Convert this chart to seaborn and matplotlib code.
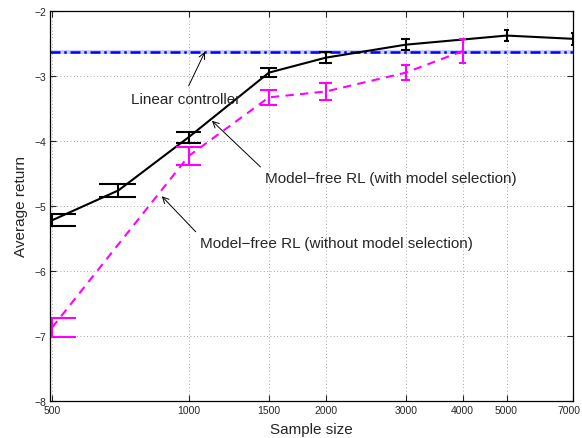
import numpy as np
import pandas as pd
import seaborn as sns
import matplotlib
matplotlib.use("Agg")
import matplotlib.pyplot as plt
import matplotlib.transforms as mtransforms
from matplotlib.ticker import FixedLocator, FixedFormatter, NullLocator

# data
with_sel_n = [500, 700, 1000, 1500, 2000, 3000, 5000, 7000]
with_sel_ret = [-5.22, -4.76, -3.94, -2.95, -2.72, -2.52, -2.38, -2.43]
with_sel_err = [0.095, 0.10, 0.085, 0.07, 0.08, 0.08, 0.08, 0.09]

without_sel_n = [500, 1000, 1500, 2000, 3000, 4000]
without_sel_ret = [-6.87, -4.23, -3.33, -3.24, -2.95, -2.62]
without_sel_err = [0.15, 0.14, 0.12, 0.13, 0.12, 0.18]

linear_ret = -2.63
linear_err = 0.03

xticks = [500, 1000, 1500, 2000, 3000, 4000, 5000, 7000]
yticks = [-8, -7, -6, -5, -4, -3, -2]

sns.set_style("white")
plt.rcParams['font.family'] = ['Liberation Sans', 'DejaVu Sans']

fig = plt.figure(figsize=(5.82, 4.39), dpi=100)
ax = fig.add_axes([0.086, 0.084, 0.899, 0.889])
ax.set_xscale("log")

# linear controller band + line
ax.axhspan(linear_ret - linear_err, linear_ret + linear_err, color="#aaaaff", alpha=0.6, lw=0)
ax.axhline(linear_ret, color="blue", lw=1.8, ls=(0, (4, 1.5, 1, 1.5)))

df_w = pd.DataFrame({"n": with_sel_n, "ret": with_sel_ret})
df_wo = pd.DataFrame({"n": without_sel_n, "ret": without_sel_ret})
sns.lineplot(data=df_w, x="n", y="ret", ax=ax, color="black", lw=1.5)
sns.lineplot(data=df_wo, x="n", y="ret", ax=ax, color="magenta", lw=1.5, linestyle=(0, (4, 3)))

# error bars, MATLAB style caps of constant width in data units
cap = (7000 - 500) / 100
for n, r, e, c in [(with_sel_n, with_sel_ret, with_sel_err, "black"),
                   (without_sel_n, without_sel_ret, without_sel_err, "magenta")]:
    n = np.array(n); r = np.array(r); e = np.array(e)
    ax.errorbar(n, r, yerr=e, fmt="none", ecolor=c, elinewidth=1.5, capsize=0)
    ax.hlines(r + e, n - cap, n + cap, color=c, lw=1.5)
    ax.hlines(r - e, n - cap, n + cap, color=c, lw=1.5)

ax.set_xlim(495, 7010)
ax.set_ylim(-8, -2)
ax.xaxis.set_major_locator(FixedLocator(xticks))
ax.xaxis.set_major_formatter(FixedFormatter([str(t) for t in xticks]))
ax.xaxis.set_minor_locator(NullLocator())
ax.set_yticks(yticks)
ax.set_yticklabels(["\u2212%d" % abs(t) for t in yticks])
ax.tick_params(direction="in", length=4, width=0.8, labelsize=7.5,
               top=True, right=True, bottom=True, left=True, pad=3)
ax.grid(True, color="#888888", ls=(0, (1, 3)), lw=0.6)
for s in ax.spines.values():
    s.set_color("black")
    s.set_linewidth(0.9)

# keep the last x tick label inside the figure
last = ax.get_xticklabels()[-1]
last.set_transform(last.get_transform() + mtransforms.ScaledTranslation(-4 / 100, 0, fig.dpi_scale_trans))

ax.set_xlabel("Sample size", fontsize=11, labelpad=5)
ax.set_ylabel("Average return", fontsize=11, labelpad=4)

ax.annotate("Linear controller", xy=(1085, linear_ret), xytext=(985, -3.35),
            ha="center", va="center", fontsize=11,
            arrowprops=dict(arrowstyle="->", color="black", lw=0.7,
                            relpos=(0.5, 1.0), shrinkA=2, shrinkB=0))
ax.annotate("Model\u2212free RL (with model selection)", xy=(1124, -3.69), xytext=(1469, -4.57),
            ha="left", va="center", fontsize=11,
            arrowprops=dict(arrowstyle="->", color="black", lw=0.7,
                            relpos=(0.0, 1.0), shrinkA=1, shrinkB=0))
ax.annotate("Model\u2212free RL (without model selection)", xy=(872, -4.85), xytext=(1057, -5.57),
            ha="left", va="center", fontsize=11,
            arrowprops=dict(arrowstyle="->", color="black", lw=0.7,
                            relpos=(0.0, 1.0), shrinkA=1, shrinkB=0))

fig.savefig("out.png", dpi=100)
